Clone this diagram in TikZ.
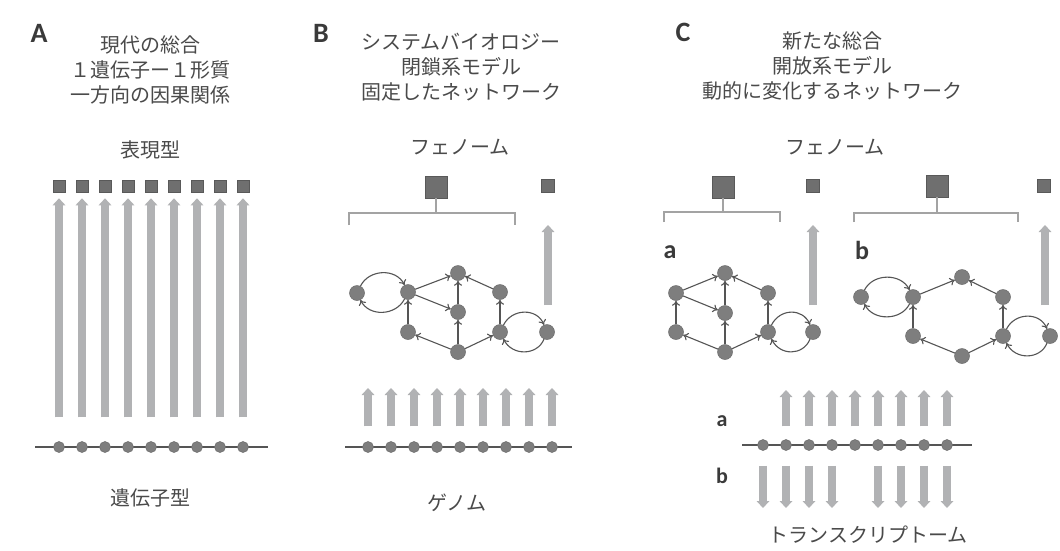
\documentclass[tikz,border=0pt]{standalone}
\usepackage{fontspec}
\newfontfamily\jp{Noto Sans CJK JP}
\newfontfamily\lab{Carlito}
\usetikzlibrary{arrows.meta}
\definecolor{txt}{HTML}{4A4A4A}
\definecolor{lbl}{HTML}{3A3A3A}
\definecolor{bar}{HTML}{B1B2B4}
\definecolor{dot}{HTML}{7E7E7E}
\definecolor{sq}{HTML}{6F6F6F}
\definecolor{wire}{HTML}{555555}
\definecolor{brk}{HTML}{A3A3A3}
\tikzset{
  jptext/.style={font=\jp\fontsize{20}{25}\selectfont, text=txt, align=center, inner sep=0pt},
  panel/.style={font=\lab\bfseries\fontsize{28}{28}\selectfont, text=lbl, inner sep=0pt},
  sublab/.style={font=\lab\bfseries\fontsize{26}{26}\selectfont, text=lbl, inner sep=0pt},
  smalllab/.style={font=\lab\bfseries\fontsize{22}{22}\selectfont, text=lbl, inner sep=0pt},
  gene/.style={circle, fill=dot, draw=dot!85!black, line width=0.5pt, minimum size=11pt, inner sep=0pt},
  netnode/.style={circle, fill=dot, draw=dot!85!black, line width=0.5pt, minimum size=15pt, inner sep=0pt},
  trait/.style={rectangle, fill=sq, draw=sq!80!black, line width=0.6pt, minimum size=12pt, inner sep=0pt},
  bigtrait/.style={trait, minimum size=22pt},
  midtrait/.style={trait, minimum size=13pt},
  bararrow/.style={draw=bar, line width=8pt, -{Triangle[length=7pt,width=12.5pt]}},
  edge/.style={draw=wire, line width=1.1pt, -{To[length=5pt,width=8pt]}},
  chrom/.style={draw=wire, line width=2pt},
  bracket/.style={draw=brk, line width=1.2pt},
}
\begin{document}
\begin{tikzpicture}[x=1pt, y=-1pt]
\useasboundingbox (0,0) rectangle (1060,550);
\fill[white] (0,0) rectangle (1060,550);

% ---------------- Panel A: modern synthesis ----------------
\node[panel] (labA) at (39,33) {A};
\node[jptext] (titleA) at (150,70) {現代の総合\\１遺伝子ー１形質\\一方向の因果関係};
\node[jptext] (phenA) at (150,150) {表現型};
\node[jptext] (genoA) at (150,498) {遺伝子型};
\coordinate (chrA0) at (35,447);
\coordinate (chrA1) at (268,447);
\draw[chrom] (chrA0) -- (chrA1);
\foreach \i in {0,...,8} {
  \pgfmathsetmacro\xx{59+23*\i}
  \node[trait] (pA\i) at (\xx,186) {};
  \node[gene] (gA\i) at (\xx,447) {};
  \draw[bararrow, shorten <=24pt, shorten >=6pt] (gA\i) -- (pA\i);
}

% ---------------- Panel B: systems biology ----------------
\node[panel] (labB) at (321,33) {B};
\node[jptext] (titleB) at (461,67) {システムバイオロジー\\閉鎖系モデル\\固定したネットワーク};
\node[jptext] (phenB) at (460,147) {フェノーム};
\node[jptext] (genB) at (457,503) {ゲノム};
\node[bigtrait] (sqB) at (436,187) {};
\node[midtrait] (sqB2) at (548,186) {};
\coordinate (brB0) at (349,225);
\coordinate (brB1) at (349,213);
\coordinate (brB2) at (515,213);
\coordinate (brB3) at (515,225);
\coordinate (brBm) at (436,213);
\draw[bracket] (brB0) -- (brB1) -- (brB2) -- (brB3);
\draw[bracket] (sqB.south) -- (brBm);
\coordinate (vB0) at (548,305);
\coordinate (vB1) at (548,225);
\draw[bararrow] (vB0) -- (vB1);

\node[netnode] (n1) at (357,293) {};
\node[netnode] (n2) at (408,292) {};
\node[netnode] (n3) at (458,273) {};
\node[netnode] (n4) at (458,312) {};
\node[netnode] (n5) at (500,292) {};
\node[netnode] (n6) at (408,332) {};
\node[netnode] (n7) at (458,352) {};
\node[netnode] (n8) at (500,332) {};
\node[netnode] (n9) at (547,332) {};
\draw[edge] (n1) .. controls +(12,-24) and +(-12,-24) .. (n2);
\draw[edge] (n2) .. controls +(-12,24) and +(12,24) .. (n1);
\draw[edge] (n2) -- (n3);
\draw[edge] (n2) -- (n4);
\draw[edge] (n6) -- (n2);
\draw[edge] (n7) -- (n6);
\draw[edge] (n7) -- (n4);
\draw[edge] (n4) -- (n3);
\draw[edge] (n5) -- (n3);
\draw[edge] (n7) -- (n8);
\draw[edge] (n8) -- (n5);
\draw[edge] (n8) .. controls +(12,-24) and +(-10,-24) .. (n9);
\draw[edge] (n9) .. controls +(-10,24) and +(12,24) .. (n8);

\coordinate (chrB0) at (345,447);
\coordinate (chrB1) at (572,447);
\draw[chrom] (chrB0) -- (chrB1);
\foreach \i in {0,...,8} {
  \pgfmathsetmacro\xx{368+23*\i}
  \node[gene] (gB\i) at (\xx,447) {};
  \coordinate (uB\i) at (\xx,388);
  \draw[bararrow, shorten <=15pt] (gB\i) -- (uB\i);
}

% ---------------- Panel C: new synthesis ----------------
\node[panel] (labC) at (683,32) {C};
\node[jptext] (titleC) at (832,66) {新たな総合\\開放系モデル\\動的に変化するネットワーク};
\node[jptext] (phenC) at (835,147) {フェノーム};

% network a
\node[sublab] (labCa) at (670,252) {a};
\node[bigtrait] (sqCa) at (723,187) {};
\node[midtrait] (sqCa2) at (813,186) {};
\coordinate (brCa0) at (664,222);
\coordinate (brCa1) at (664,212);
\coordinate (brCa2) at (780,212);
\coordinate (brCa3) at (780,222);
\coordinate (brCam) at (723,212);
\draw[bracket] (brCa0) -- (brCa1) -- (brCa2) -- (brCa3);
\draw[bracket] (sqCa.south) -- (brCam);
\coordinate (vCa0) at (813,305);
\coordinate (vCa1) at (813,225);
\draw[bararrow] (vCa0) -- (vCa1);

\node[netnode] (a1) at (676,293) {};
\node[netnode] (a3) at (725,273) {};
\node[netnode] (a4) at (725,313) {};
\node[netnode] (a5) at (768,293) {};
\node[netnode] (a6) at (676,332) {};
\node[netnode] (a7) at (725,352) {};
\node[netnode] (a8) at (768,332) {};
\node[netnode] (a9) at (813,332) {};
\draw[edge] (a6) -- (a1);
\draw[edge] (a1) -- (a3);
\draw[edge] (a1) -- (a4);
\draw[edge] (a4) -- (a3);
\draw[edge] (a5) -- (a3);
\draw[edge] (a7) -- (a6);
\draw[edge] (a7) -- (a4);
\draw[edge] (a7) -- (a8);
\draw[edge] (a8) -- (a5);
\draw[edge] (a8) .. controls +(12,-24) and +(-10,-24) .. (a9);
\draw[edge] (a9) .. controls +(-10,24) and +(12,24) .. (a8);

% network b
\node[sublab] (labCb) at (862,250) {b};
\node[bigtrait] (sqCb) at (937,186) {};
\node[midtrait] (sqCb2) at (1044,186) {};
\coordinate (brCb0) at (854,222);
\coordinate (brCb1) at (854,213);
\coordinate (brCb2) at (1018,213);
\coordinate (brCb3) at (1018,222);
\coordinate (brCbm) at (937,213);
\draw[bracket] (brCb0) -- (brCb1) -- (brCb2) -- (brCb3);
\draw[bracket] (sqCb.south) -- (brCbm);
\coordinate (vCb0) at (1045,305);
\coordinate (vCb1) at (1045,225);
\draw[bararrow] (vCb0) -- (vCb1);

\node[netnode] (b1) at (861,297) {};
\node[netnode] (b2) at (913,297) {};
\node[netnode] (b3) at (962,277) {};
\node[netnode] (b5) at (1003,297) {};
\node[netnode] (b6) at (913,336) {};
\node[netnode] (b7) at (962,356) {};
\node[netnode] (b8) at (1003,336) {};
\node[netnode] (b9) at (1050,336) {};
\draw[edge] (b1) .. controls +(12,-24) and +(-12,-24) .. (b2);
\draw[edge] (b2) .. controls +(-12,24) and +(12,24) .. (b1);
\draw[edge] (b2) -- (b3);
\draw[edge] (b6) -- (b2);
\draw[edge] (b7) -- (b6);
\draw[edge] (b7) -- (b8);
\draw[edge] (b8) -- (b5);
\draw[edge] (b5) -- (b3);
\draw[edge] (b8) .. controls +(12,-24) and +(-10,-24) .. (b9);
\draw[edge] (b9) .. controls +(-10,24) and +(12,24) .. (b8);

% transcriptome
\node[smalllab] (labCa2) at (722,421) {a};
\node[smalllab] (labCb2) at (722,476) {b};
\node[jptext] (transC) at (868,535) {トランスクリプトーム};
\coordinate (chrC0) at (742,445);
\coordinate (chrC1) at (972,445);
\draw[chrom] (chrC0) -- (chrC1);
\foreach \i in {0,...,8} {
  \pgfmathsetmacro\xx{763+23*\i}
  \node[gene] (gC\i) at (\xx,445) {};
  \coordinate (uC\i) at (\xx,390);
  \coordinate (dC\i) at (\xx,508);
}
\foreach \i in {1,...,8} {
  \draw[bararrow, shorten <=13pt] (gC\i) -- (uC\i);
}
\foreach \i in {0,1,2,3,5,6,7,8} {
  \draw[bararrow, shorten <=15pt] (gC\i) -- (dC\i);
}
\end{tikzpicture}
\end{document}
